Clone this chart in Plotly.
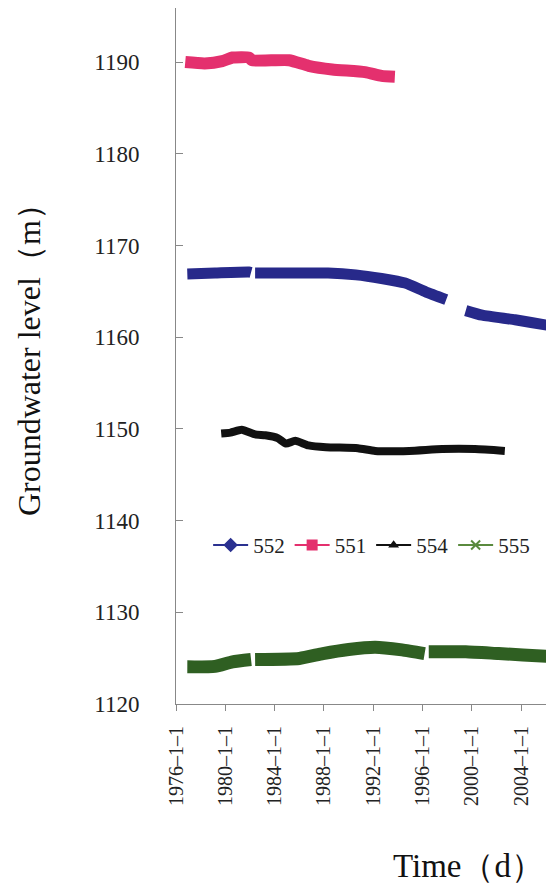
import plotly.graph_objects as go

# ---- data ----
d552 = ["1976-12", "1979-03", "1981-12", "1982-02", None, "1982-06", "1986-01", "1988-05",
        "1990-08", "1992-09", "1994-08", "1996-04", "1997-12", None,
        "1999-07", "2000-11", "2003-07", "2006-03", "2006-09"]
v552 = [1166.9, 1167.0, 1167.1, 1167.05, None, 1167.0, 1167.0, 1167.0,
        1166.8, 1166.4, 1165.9, 1164.95, 1164.1, None,
        1162.9, 1162.4, 1161.9, 1161.3, 1161.2]

d551 = ["1976-10", "1978-05", "1979-10", "1980-08", "1981-12", "1982-03", "1985-03",
        "1986-10", "1988-09", "1991-05", "1992-09", "1993-10"]
v551 = [1190.0, 1189.85, 1190.1, 1190.5, 1190.5, 1190.2, 1190.2,
        1189.6, 1189.2, 1188.9, 1188.5, 1188.4]

d554 = ["1979-09", "1980-06", "1981-05", "1982-06", "1983-04", "1984-04", "1984-12",
        "1985-09", "1986-10", "1988-03", "1990-10", "1992-03", "1994-12",
        "1997-08", "2000-04", "2002-09"]
v554 = [1149.5, 1149.6, 1149.9, 1149.4, 1149.3, 1149.0, 1148.4,
        1148.7, 1148.2, 1148.0, 1147.9, 1147.6, 1147.6,
        1147.8, 1147.8, 1147.6]

d555 = ["1976-12", "1979-03", "1980-08", "1982-02", None, "1982-06", "1986-01", "1987-12",
        "1990-01", "1992-03", "1994-05", "1996-03", None, "1996-07", "1999-07",
        "2002-03", "2006-03", "2006-09"]
v555 = [1124.05, 1124.1, 1124.6, 1124.85, None, 1124.85, 1124.97, 1125.5,
        1125.95, 1126.2, 1125.9, 1125.5, None, 1125.7, 1125.7,
        1125.5, 1125.2, 1125.2]

tick_dates = ["1976-01-01", "1980-01-01", "1984-01-01", "1988-01-01",
              "1992-01-01", "1996-01-01", "2000-01-01", "2004-01-01"]
tick_text = ["1976–1–1", "1980–1–1", "1984–1–1", "1988–1–1",
             "1992–1–1", "1996–1–1", "2000–1–1", "2004–1–1"]
y_ticks = [1120, 1130, 1140, 1150, 1160, 1170, 1180, 1190]

names = ["552", "551", "554", "555"]
colors = ["#27298a", "#e4306e", "#111111", "#2f5f22"]
legend_colors = ["#2b3190", "#e4306e", "#111111", "#5a8a3e"]
symbols = ["diamond", "square", "triangle-up", "x-thin-open"]
widths = [11, 12, 8, 13]
series = [(d552, v552), (d551, v551), (d554, v554), (d555, v555)]

fig = go.Figure()
for (d, v), c, w in zip(series, colors, widths):
    fig.add_trace(go.Scatter(x=d, y=v, mode="lines", connectgaps=False,
                             line=dict(color=c, width=w, shape="spline", smoothing=0.5),
                             showlegend=False, hoverinfo="skip"))
for n, c, s in zip(names, legend_colors, symbols):
    fig.add_trace(go.Scatter(x=[None], y=[None], mode="lines+markers", name=n,
                             line=dict(color=c, width=2),
                             marker=dict(symbol=s, size=9 if s != "triangle-up" else 6,
                                         color=c, line=dict(color=c, width=2))))

serif = "Liberation Serif, Times New Roman, serif"
# the page body adds an 8px offset, so the figure is 8px smaller than the window
fig.update_layout(
    width=546, height=878,
    margin=dict(l=168, r=0, t=0, b=182),
    paper_bgcolor="white", plot_bgcolor="white",
    showlegend=True,
    legend=dict(orientation="h", x=0.085, y=0.228, xanchor="left", yanchor="middle",
                font=dict(family=serif, size=21, color="#222"),
                bgcolor="rgba(0,0,0,0)", itemwidth=35, tracegroupgap=0),
    xaxis=dict(type="date", range=["1976-01-01", "2006-08-28"],
               tickmode="array", tickvals=tick_dates, ticktext=tick_text,
               tickangle=-90, ticks="outside", ticklen=6, tickcolor="#888",
               showline=True, linecolor="#888", linewidth=1, showgrid=False,
               zeroline=False, ticklabelstandoff=7,
               tickfont=dict(family=serif, size=20, color="#222")),
    yaxis=dict(range=[1120, 1195.9], tickmode="array", tickvals=y_ticks,
               ticks="inside", ticklen=7, tickcolor="#888",
               showline=True, linecolor="#888", linewidth=1, showgrid=False,
               zeroline=False, ticklabelstandoff=31,
               tickfont=dict(family=serif, size=23, color="#222")),
    annotations=[
        dict(text="Groundwater level（m）", xref="paper", yref="paper",
             x=-0.39, y=0.505, xanchor="center", yanchor="middle", textangle=-90,
             showarrow=False, font=dict(family=serif, size=32, color="#111")),
        dict(text="Time（d）", xref="paper", yref="paper",
             x=0.775, y=-0.233, xanchor="center", yanchor="middle",
             showarrow=False, font=dict(family=serif, size=33, color="#111")),
    ],
)

fig.write_html("out.html")
